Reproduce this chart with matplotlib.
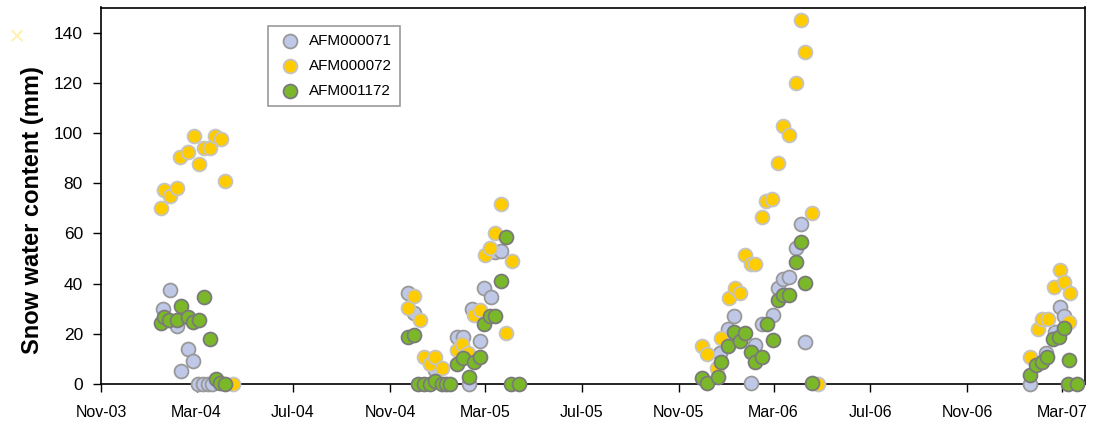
import pandas as pd
import matplotlib
matplotlib.use("Agg")
import matplotlib.pyplot as plt
import matplotlib.dates as mdates

plt.rcParams['font.family'] = ['Liberation Sans', 'DejaVu Sans']

# AFM000071
d71 = ['2004-01-18', '2004-01-27', '2004-02-05', '2004-02-10', '2004-02-19', '2004-02-25',
       '2004-03-03', '2004-03-09', '2004-03-15', '2004-03-21',
       '2004-11-23', '2004-12-01', '2004-12-27', '2005-01-24', '2005-02-01', '2005-02-08',
       '2005-02-13', '2005-02-22', '2005-02-28', '2005-03-08', '2005-03-13', '2005-03-21',
       '2005-12-23', '2006-01-02', '2006-01-10', '2006-01-31', '2006-02-06', '2006-02-14',
       '2006-02-28', '2006-03-06', '2006-03-13', '2006-03-20', '2006-03-29', '2006-04-05',
       '2006-04-10',
       '2007-01-20', '2007-02-09', '2007-02-20', '2007-02-26', '2007-03-03']
v71 = [30, 37.5, 23, 5, 14, 9,
       0, 0, 0, 0,
       36.2, 28.4, 5.6, 18.9, 18.9, 0,
       29.8, 17.3, 38.4, 34.8, 52.7, 52.8,
       12.5, 21.9, 26.9, 0.3, 15.6, 23.9,
       27.5, 38.2, 41.8, 42.6, 54.1, 63.7,
       16.6,
       0, 12.5, 20.9, 30.6, 27.2]

# AFM000072
d72 = ['2004-01-16', '2004-01-20', '2004-01-27', '2004-02-05', '2004-02-09', '2004-02-19',
       '2004-02-27', '2004-03-04', '2004-03-10', '2004-03-18', '2004-03-24', '2004-04-01',
       '2004-04-06', '2004-04-16',
       '2004-11-23', '2004-12-01', '2004-12-08', '2004-12-14', '2004-12-21', '2004-12-28',
       '2005-01-05', '2005-01-24', '2005-01-31', '2005-02-07', '2005-02-15', '2005-02-22',
       '2005-03-01', '2005-03-07', '2005-03-14', '2005-03-21', '2005-03-28', '2005-04-04',
       '2005-11-30', '2005-12-07', '2005-12-19', '2005-12-25', '2006-01-03', '2006-01-11',
       '2006-01-17', '2006-01-24', '2006-01-31', '2006-02-06', '2006-02-14', '2006-02-20',
       '2006-02-27', '2006-03-06', '2006-03-13', '2006-03-20', '2006-03-29', '2006-04-05',
       '2006-04-10', '2006-04-19', '2006-04-26',
       '2007-01-20', '2007-01-30', '2007-02-04', '2007-02-11', '2007-02-19', '2007-02-26',
       '2007-03-03', '2007-03-10', '2007-03-11']
v72 = [70.2, 77.4, 75.0, 78.2, 90.6, 92.6,
       98.8, 87.7, 94.2, 94.2, 99.0, 97.6,
       81.0, 0,
       30.4, 35.2, 25.3, 10.9, 8.0, 10.9,
       6.5, 13.6, 16.0, 12.5, 27.3, 29.5,
       51.2, 54.1, 60.1, 71.7, 20.2, 49.2,
       15.3, 11.8, 6.3, 18.2, 34.2, 38.4,
       36.2, 51.5, 47.7, 47.7, 66.7, 72.9,
       73.7, 88.0, 102.6, 99.2, 120.1, 145.2,
       132.3, 68.1, 0,
       10.6, 21.8, 25.9, 25.9, 38.8, 45.5,
       40.6, 24.8, 36.2]

# AFM001172
d1172 = ['2004-01-16', '2004-01-20', '2004-01-26', '2004-02-05', '2004-02-10', '2004-02-19',
         '2004-02-25', '2004-03-04', '2004-03-10', '2004-03-18', '2004-03-25', '2004-03-30',
         '2004-04-06',
         '2004-11-23', '2004-12-01', '2004-12-06', '2004-12-14', '2004-12-21', '2004-12-28',
         '2005-01-05', '2005-01-11', '2005-01-16', '2005-01-24', '2005-02-01', '2005-02-08',
         '2005-02-15', '2005-02-22', '2005-02-28', '2005-03-07', '2005-03-14', '2005-03-21',
         '2005-03-28', '2005-04-03', '2005-04-13',
         '2005-11-30', '2005-12-07', '2005-12-21', '2005-12-25', '2006-01-02', '2006-01-10',
         '2006-01-17', '2006-01-24', '2006-01-31', '2006-02-06', '2006-02-14', '2006-02-21',
         '2006-02-28', '2006-03-06', '2006-03-13', '2006-03-20', '2006-03-29', '2006-04-05',
         '2006-04-10', '2006-04-19',
         '2007-01-20', '2007-01-27', '2007-02-03', '2007-02-10', '2007-02-17', '2007-02-25',
         '2007-03-03', '2007-03-09', '2007-03-10', '2007-03-20']
v1172 = [24.3, 26.7, 25.5, 25.5, 31.1, 26.7,
         24.7, 25.5, 34.7, 17.9, 2.0, 0.4,
         0,
         18.9, 19.5, 0, 0, 0, 1.3,
         0, 0, 0, 8.0, 10.2, 2.9,
         8.7, 10.9, 23.9, 26.9, 26.9, 41.2,
         58.5, 0, 0,
         2.5, 0.3, 2.9, 8.7, 15.3, 20.9,
         17.3, 20.2, 12.9, 8.7, 10.6, 23.8,
         17.6, 33.5, 35.5, 35.5, 48.5, 56.5,
         40.4, 0.3,
         3.6, 7.6, 8.9, 10.6, 17.8, 18.6,
         22.2, 0, 9.6, 0]

series = [
    ('AFM000071', d71, v71, '#c0c8e8', '#999999'),
    ('AFM000072', d72, v72, '#ffcc00', '#c4c4c4'),
    ('AFM001172', d1172, v1172, '#7ab829', '#7a7a7a'),
]

fig = plt.figure(figsize=(10.96, 4.34), dpi=100)
ax = fig.add_axes([101 / 1096, 1 - 384 / 434, 984 / 1096, 376.5 / 434])

for name, d, v, fc, ec in series:
    ax.scatter(pd.to_datetime(d), v, s=100, c=fc, edgecolors=ec, linewidths=1.3,
               label=name, clip_on=False, zorder=3)

ax.set_xlim(pd.Timestamp('2003-11-01'), pd.Timestamp('2007-03-30'))
ax.set_ylim(0, 150)
ax.set_yticks(range(0, 141, 20))
ax.xaxis.set_major_locator(mdates.MonthLocator(bymonth=[3, 7, 11]))
ax.xaxis.set_major_formatter(mdates.DateFormatter('%b-%y'))
ax.tick_params(axis='both', direction='out', length=6, width=1)
ax.tick_params(axis='x', pad=9, labelsize=11.5)
ax.tick_params(axis='y', pad=7, labelsize=12.5)
for sp in ax.spines.values():
    sp.set_linewidth(1.2)
    sp.set_color('black')

ax.set_ylabel('Snow water content (mm)', fontsize=17, fontweight='bold')
ax.yaxis.set_label_coords(-0.058, 0.462)

leg = ax.legend(loc='upper left', bbox_to_anchor=((268 - 101) / 984, (384 - 26) / 376.5),
                borderaxespad=0, fancybox=False, fontsize=11, borderpad=0.55,
                labelspacing=0.7, handlelength=1.8, handletextpad=0.3, scatterpoints=1)
leg.get_frame().set_edgecolor('#808080')
leg.get_frame().set_linewidth(1.2)

fig.text(16 / 1096, 1 - 38 / 434, '×', color='#fff2b0', fontsize=20, ha='center', va='center')

fig.savefig('out.png', dpi=100)
